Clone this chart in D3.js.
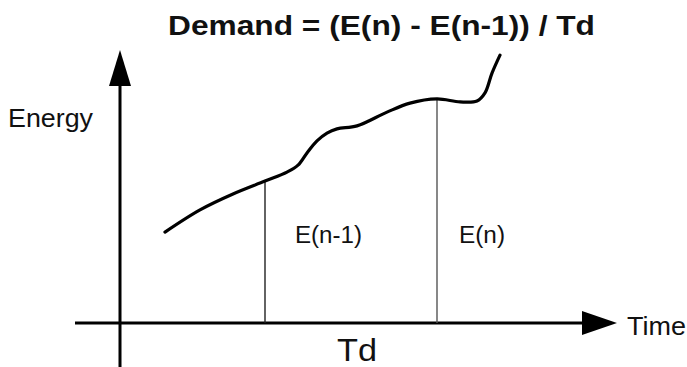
<!DOCTYPE html>
<html>
<head>
<meta charset="utf-8">
<script src="https://cdn.jsdelivr.net/npm/d3@7"></script>
<style>
  body { margin: 0; background: #fff; }
  text { font-family: "Liberation Sans", Arial, sans-serif; fill: #111; }
</style>
</head>
<body>
<div id="chart-area"></div>
<script>
// energy curve (arbitrary units 0-100)
var curveTime = [9, 16, 22.6, 29, 33.4, 35.6, 37.4, 39.4, 41.4, 43.4, 47.4, 53.4, 58, 63.4, 68, 71.4, 73, 74.4, 76];
var curveEnergy = [30.3, 37.7, 43, 47.3, 50.3, 52.6, 56.7, 60.7, 63.3, 64.7, 65.7, 70.3, 73.3, 74.7, 73.7, 74, 76.7, 83.3, 89.3];

// the two sample instants
var markTime = [29, 63.4];
var markEnergy = [47.3, 74.7];
var markLabels = ["E(n-1)", "E(n)"];

var svg = d3.select("#chart-area")
    .append("svg")
    .attr("width", 687)
    .attr("height", 367);

var x = d3.scaleLinear()
    .domain([0, 100])
    .range([120, 620]);

var y = d3.scaleLinear()
    .domain([0, 100])
    .range([323, 23]);

// title
svg.append("text")
    .attr("x", 168)
    .attr("y", 35)
    .attr("font-size", 27)
    .attr("font-weight", "bold")
    .attr("textLength", 427)
    .attr("lengthAdjust", "spacingAndGlyphs")
    .text("Demand = (E(n) - E(n-1)) / Td");

// y axis with arrow
svg.append("line")
    .attr("x1", x(0)).attr("x2", x(0))
    .attr("y1", 367).attr("y2", 80)
    .attr("stroke", "#000")
    .attr("stroke-width", 3);
svg.append("path")
    .attr("d", "M" + (x(0) - 11) + ",86 L" + x(0) + ",50 L" + (x(0) + 11) + ",86 Z")
    .attr("fill", "#000");

// x axis with arrow
svg.append("line")
    .attr("x1", 75).attr("x2", 590)
    .attr("y1", y(0)).attr("y2", y(0))
    .attr("stroke", "#000")
    .attr("stroke-width", 3);
svg.append("path")
    .attr("d", "M582," + (y(0) - 12) + " L617," + y(0) + " L582," + (y(0) + 12) + " Z")
    .attr("fill", "#000");

svg.append("text")
    .attr("x", 8)
    .attr("y", 127)
    .attr("font-size", 25)
    .attr("textLength", 85)
    .attr("lengthAdjust", "spacingAndGlyphs")
    .text("Energy");

svg.append("text")
    .attr("x", 627)
    .attr("y", 335)
    .attr("font-size", 26)
    .attr("textLength", 59)
    .attr("lengthAdjust", "spacingAndGlyphs")
    .text("Time");

svg.append("text")
    .attr("x", 337)
    .attr("y", 361)
    .attr("font-size", 32)
    .attr("textLength", 40)
    .attr("lengthAdjust", "spacingAndGlyphs")
    .text("Td");

// sample lines
svg.selectAll("line.mark")
    .data(markTime)
    .enter()
    .append("line")
    .attr("class", "mark")
    .attr("x1", function(d) { return x(d); })
    .attr("x2", function(d) { return x(d); })
    .attr("y1", y(0))
    .attr("y2", function(d, i) { return y(markEnergy[i]); })
    .attr("stroke", function(d, i) { return i === 0 ? "#222" : "#555"; })
    .attr("stroke-width", 1.4);

svg.selectAll("text.mark")
    .data(markLabels)
    .enter()
    .append("text")
    .attr("class", "mark")
    .attr("x", function(d, i) { return x(markTime[i]) + (i === 0 ? 30 : 22); })
    .attr("y", 243)
    .attr("font-size", 23)
    .attr("textLength", function(d, i) { return i === 0 ? 67 : 46; })
    .attr("lengthAdjust", "spacingAndGlyphs")
    .text(function(d) { return d; });

// energy curve
var line = d3.line()
    .x(function(d, i) { return x(curveTime[i]); })
    .y(function(d) { return y(d); })
    .curve(d3.curveCatmullRom.alpha(0.5));

svg.append("path")
    .attr("d", line(curveEnergy))
    .attr("fill", "none")
    .attr("stroke", "#000")
    .attr("stroke-width", 3.2)
    .attr("stroke-linecap", "round");
</script>
</body>
</html>
